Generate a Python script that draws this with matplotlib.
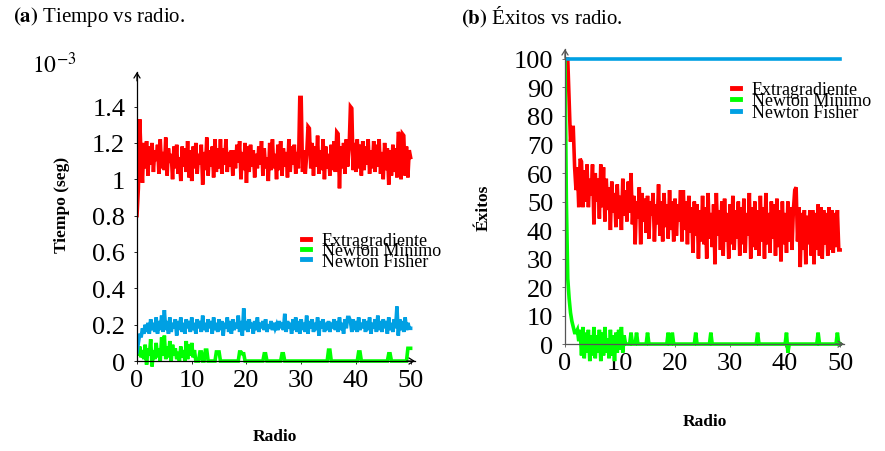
import numpy as np
import matplotlib.pyplot as plt

plt.rcParams['font.family'] = ['Liberation Serif', 'DejaVu Serif']
plt.rcParams['mathtext.fontset'] = 'stix'

# radio: sampled every 0.25 from 0 to 50
radio = np.linspace(0, 50, 201)

# (a) Tiempo vs radio (x 1e-3 seg)
tiempo_extragradiente = [
    0.80, 0.95, 1.33, 1.12, 0.98, 1.20, 1.06, 1.21, 1.02, 1.18, 1.08, 1.20, 1.04, 1.16, 1.10, 1.19, 1.03, 1.22, 1.06, 1.15,
    1.05, 1.23, 1.02, 1.17, 1.09, 1.14, 1.00, 1.18, 1.06, 1.19, 1.03, 1.12, 0.99, 1.18, 1.07, 1.17, 1.04, 1.21, 1.01, 1.16,
    0.99, 1.18, 1.06, 1.20, 1.03, 1.14, 1.08, 1.19, 0.97, 1.15, 1.05, 1.23, 1.02, 1.16, 1.07, 1.18, 1.01, 1.22, 1.04, 1.17,
    1.06, 1.22, 1.03, 1.17, 1.08, 1.22, 1.04, 1.15, 1.07, 1.16, 1.02, 1.16, 1.06, 1.19, 1.09, 1.21, 1.00, 1.15, 1.05, 1.20,
    0.98, 1.18, 1.04, 1.19, 1.07, 1.16, 1.01, 1.14, 1.06, 1.18, 1.08, 1.21, 1.02, 1.17, 1.06, 1.12, 0.99, 1.20, 1.05, 1.22,
    1.06, 1.14, 1.00, 1.19, 1.05, 1.21, 1.02, 1.17, 1.07, 1.15, 1.01, 1.22, 1.04, 1.18, 1.08, 1.19, 1.03, 1.15, 1.06, 1.45,
    1.45, 1.04, 1.16, 1.03, 1.13, 1.29, 1.28, 1.06, 1.20, 1.02, 1.18, 1.07, 1.24, 1.03, 1.16, 1.05, 1.22, 1.00, 1.18, 1.06,
    1.14, 1.02, 1.19, 1.05, 1.21, 1.04, 1.26, 1.25, 0.95, 1.18, 1.06, 1.20, 1.03, 1.22, 1.07, 1.16, 1.40, 1.39, 1.05, 1.20,
    1.04, 1.22, 1.06, 1.19, 1.02, 1.21, 1.05, 1.18, 1.08, 1.22, 1.03, 1.16, 1.06, 1.21, 1.04, 1.19, 1.07, 1.22, 1.03, 1.15,
    1.00, 1.20, 1.05, 1.17, 0.97, 1.16, 1.02, 1.19, 1.04, 1.17, 1.01, 1.26, 1.24, 1.00, 1.25, 1.24, 1.02, 1.18, 1.01, 1.16,
    1.12]
tiempo_newton_minimo = [
    0.05, 0.03, 0.08, 0.02, 0.06, 0.01, 0.09, -0.02, 0.07, 0.03, 0.12, -0.03, 0.06, 0.01, 0.10, 0.02, 0.07, 0.00, 0.13, 0.03,
    0.14, 0.01, 0.08, 0.02, 0.11, 0.00, 0.09, 0.03, 0.07, 0.01, 0.05, 0.00, 0.08, 0.02, 0.06, 0.00, 0.11, 0.01, 0.09, 0.03,
    0.10, 0.02, 0.06, 0.00, 0.00, 0.00, 0.05, 0.05, 0.00, 0.00, 0.06, 0.06, 0.00, 0.00, 0.00, 0.00, 0.00, 0.00, 0.05, 0.05,
    0.05, 0.00, 0.00, 0.00, 0.00, 0.00, 0.00, 0.00, 0.00, 0.00, 0.00, 0.00, 0.00, 0.00, 0.00, 0.05, 0.05, 0.04, 0.04, 0.00,
    0.00, 0.00, 0.00, 0.00, 0.00, 0.00, 0.00, 0.00, 0.00, 0.00, 0.00, 0.00, 0.00, 0.04, 0.04, 0.00, 0.00, 0.00, 0.00, 0.00,
    0.00, 0.00, 0.00, 0.00, 0.00, 0.00, 0.04, 0.04, 0.00, 0.00, 0.00, 0.00, 0.00, 0.00, 0.00, 0.00, 0.00, 0.00, 0.00, 0.00,
    0.00, 0.00, 0.00, 0.00, 0.00, 0.00, 0.00, 0.00, 0.00, 0.00, 0.00, 0.00, 0.00, 0.00, 0.00, 0.00, 0.00, 0.00, 0.00, 0.00,
    0.06, 0.06, 0.00, 0.00, 0.00, 0.00, 0.00, 0.00, 0.00, 0.00, 0.00, 0.00, 0.00, 0.00, 0.00, 0.00, 0.00, 0.00, 0.00, 0.00,
    0.00, 0.00, 0.05, 0.05, 0.00, 0.00, 0.00, 0.00, 0.00, 0.00, 0.00, 0.00, 0.00, 0.00, 0.00, 0.00, 0.00, 0.00, 0.00, 0.00,
    0.00, 0.00, 0.00, 0.00, 0.04, 0.04, 0.00, 0.00, 0.00, 0.00, 0.00, 0.00, 0.00, 0.00, 0.00, 0.00, 0.00, 0.00, 0.07, 0.07,
    0.07]
tiempo_newton_fisher = [
    0.05, 0.10, 0.15, 0.13, 0.18, 0.15, 0.20, 0.16, 0.21, 0.15, 0.23, 0.17, 0.21, 0.16, 0.24, 0.15, 0.22, 0.17, 0.25, 0.16,
    0.28, 0.17, 0.22, 0.15, 0.24, 0.16, 0.21, 0.18, 0.23, 0.14, 0.22, 0.17, 0.24, 0.16, 0.21, 0.15, 0.23, 0.18, 0.22, 0.16,
    0.24, 0.17, 0.21, 0.15, 0.23, 0.18, 0.22, 0.16, 0.25, 0.17, 0.21, 0.16, 0.23, 0.18, 0.22, 0.15, 0.24, 0.17, 0.21, 0.16,
    0.23, 0.17, 0.22, 0.14, 0.21, 0.18, 0.24, 0.16, 0.22, 0.15, 0.23, 0.17, 0.21, 0.18, 0.25, 0.16, 0.22, 0.14, 0.29, 0.17,
    0.22, 0.16, 0.23, 0.18, 0.21, 0.15, 0.22, 0.17, 0.24, 0.16, 0.21, 0.18, 0.22, 0.17, 0.23, 0.16, 0.20, 0.18, 0.22, 0.17,
    0.21, 0.18, 0.20, 0.17, 0.22, 0.18, 0.21, 0.17, 0.26, 0.16, 0.22, 0.18, 0.21, 0.15, 0.23, 0.17, 0.24, 0.16, 0.22, 0.15,
    0.23, 0.17, 0.21, 0.16, 0.25, 0.15, 0.22, 0.18, 0.23, 0.16, 0.21, 0.17, 0.24, 0.14, 0.22, 0.18, 0.23, 0.16, 0.21, 0.17,
    0.22, 0.16, 0.21, 0.18, 0.23, 0.17, 0.22, 0.16, 0.24, 0.17, 0.21, 0.15, 0.23, 0.18, 0.24, 0.24, 0.22, 0.16, 0.23, 0.17,
    0.22, 0.16, 0.24, 0.17, 0.21, 0.18, 0.23, 0.16, 0.22, 0.17, 0.24, 0.15, 0.21, 0.18, 0.23, 0.16, 0.25, 0.17, 0.22, 0.16,
    0.23, 0.18, 0.22, 0.15, 0.24, 0.17, 0.21, 0.16, 0.23, 0.18, 0.30, 0.14, 0.23, 0.17, 0.22, 0.16, 0.24, 0.17, 0.21, 0.18,
    0.18]

# (b) Exitos vs radio
exitos_extragradiente = [
    100, 100, 100, 85, 71, 76, 76, 62, 54, 62, 48, 65, 64, 48, 61, 50, 63, 48, 58, 52,
    63, 42, 60, 50, 58, 44, 63, 48, 62, 43, 58, 47, 55, 40, 57, 46, 53, 41, 56, 44,
    52, 40, 58, 45, 54, 43, 57, 46, 60, 42, 52, 35, 50, 44, 55, 35, 53, 43, 51, 39,
    52, 37, 50, 45, 53, 36, 49, 42, 56, 38, 50, 36, 53, 41, 49, 37, 54, 40, 50, 36,
    51, 38, 49, 43, 54, 36, 54, 40, 50, 35, 52, 39, 48, 32, 50, 38, 49, 30, 47, 36,
    52, 35, 48, 30, 53, 37, 46, 34, 49, 28, 53, 38, 47, 33, 50, 31, 51, 36, 46, 30,
    49, 35, 52, 33, 47, 37, 50, 31, 48, 35, 51, 32, 46, 38, 53, 30, 48, 34, 50, 33,
    47, 31, 52, 36, 48, 30, 53, 35, 46, 32, 50, 37, 49, 31, 51, 34, 47, 29, 50, 35,
    46, 32, 50, 36, 48, 33, 47, 54, 55, 36, 48, 27, 46, 33, 47, 28, 45, 35, 47, 31,
    47, 28, 46, 33, 49, 31, 48, 30, 47, 35, 46, 31, 48, 33, 47, 32, 46, 34, 47, 33,
    33]
exitos_newton_minimo = [
    100, 50, 23, 16, 11, 8, 6, 4, 4, 5, 1, 5, -4, 6, -5, 4, -3, 5, -6, 3,
    -4, 6, -5, 3, -3, 5, -6, 4, -4, 6, -3, 2, -5, 5, -4, 3, -6, 4, -3, 5,
    -2, 6, -3, 3, 0, 0, 0, 0, 4, 0, 0, 0, 4, 0, 0, 0, 0, 0, 0, 0,
    4, 0, 0, 0, 0, 0, 0, 0, 0, 0, 0, 0, 0, 0, 0, 4, 0, 0, 4, 0,
    0, 0, 0, 0, 0, 0, 0, 0, 0, 0, 0, 0, 0, 0, 0, 4, 0, 0, 0, 0,
    0, 0, 0, 0, 0, 0, 4, 0, 0, 0, 0, 0, 0, 0, 0, 0, 0, 0, 0, 0,
    0, 0, 0, 0, 0, 0, 0, 0, 0, 0, 0, 0, 0, 0, 0, 0, 0, 0, 0, 0,
    4, 0, 0, 0, 0, 0, 0, 0, 0, 0, 0, 0, 0, 0, 0, 0, 0, 0, 0, 0,
    0, 4, -3, 0, 0, 0, 0, 0, 0, 0, 0, 0, 0, 0, 0, 0, 0, 0, 0, 0,
    0, 0, 0, 0, 4, 0, 0, 0, 0, 0, 0, 0, 0, 0, 0, 0, 0, 0, 4, 0,
    0]
exitos_newton_fisher = [100] * 201

labels = ['Extragradiente', 'Newton Mínimo', 'Newton Fisher']
colors = ['#ff0000', '#00ff00', '#00a0e3']

xticks = [0, 10, 20, 30, 40, 50]
yticks_a = [0, 0.2, 0.4, 0.6, 0.8, 1.0, 1.2, 1.4]
yticklabels_a = ['0', '0.2', '0.4', '0.6', '0.8', '1', '1.2', '1.4']
yticks_b = [0, 10, 20, 30, 40, 50, 60, 70, 80, 90, 100]

W, H = 885, 452
fig = plt.figure(figsize=(W / 100, H / 100), dpi=100)


def px_axes(x0, x1, ytop, ybot):
    return fig.add_axes([x0 / W, 1 - ybot / H, (x1 - x0) / W, (ybot - ytop) / H])


def style_axes(ax, xmax, ymin, ymax, axcol):
    ax.set_xlim(0, xmax)
    ax.set_ylim(ymin, ymax)
    for s in ['top', 'right']:
        ax.spines[s].set_visible(False)
    ax.spines['bottom'].set_position(('data', 0))
    ax.spines['left'].set_bounds(0, ymax)
    for s in ['left', 'bottom']:
        ax.spines[s].set_color(axcol)
        ax.spines[s].set_linewidth(0.9)
    ax.tick_params(direction='out', length=2.5, width=0.6, color=axcol,
                   labelsize=19)
    ax.tick_params(axis='x', pad=3)
    ax.tick_params(axis='y', pad=6)
    # arrow heads
    ax.annotate('', xy=(1, 0), xytext=(0.97, 0),
                xycoords=('axes fraction', 'data'),
                arrowprops=dict(arrowstyle='->,head_length=0.35,head_width=0.22',
                                color=axcol, lw=0.9, shrinkA=0, shrinkB=0))
    ax.annotate('', xy=(0, 1), xytext=(0, 0.97),
                xycoords=('data', 'axes fraction'),
                arrowprops=dict(arrowstyle='->,head_length=0.35,head_width=0.22',
                                color=axcol, lw=0.9, shrinkA=0, shrinkB=0))


# ---- (a) ----
ax1 = px_axes(137, 415, 73, 369.3)
series_a = [tiempo_extragradiente, tiempo_newton_minimo, tiempo_newton_fisher]
for vals, lab, c in zip(series_a, labels, colors):
    ax1.plot(radio, vals, color=c, lw=2.6, label=lab, solid_joinstyle='miter')
style_axes(ax1, 50.8, -0.04, 1.59, 'black')
ax1.set_xticks(xticks)
ax1.set_yticks(yticks_a)
ax1.set_yticklabels(yticklabels_a)
leg1 = ax1.legend(loc='center left', bbox_to_anchor=(302 / W, 1 - 252 / H),
                  bbox_transform=fig.transFigure, frameon=False, fontsize=13,
                  borderpad=0, borderaxespad=0, handlelength=0.45,
                  handletextpad=0.65, labelspacing=-0.38)
for ln in leg1.get_lines():
    ln.set_linewidth(3.5)

fig.text(32 / W, 1 - 65 / H, r'$10^{-3}$', fontsize=17, ha='left', va='center')
fig.text(62 / W, 1 - 205 / H, 'Tiempo (seg)', rotation=90, fontsize=12.5,
         fontweight='bold', ha='center', va='center')
fig.text(275 / W, 1 - 437 / H, 'Radio', fontsize=12.5, fontweight='bold',
         ha='center', va='center')
fig.text(13 / W, 1 - 17 / H, r'$\mathbf{(a)}$ Tiempo vs radio.', fontsize=15,
         ha='left', va='center')

# ---- (b) ----
ax2 = px_axes(565, 844, 50, 365)
series_b = [exitos_extragradiente, exitos_newton_minimo, exitos_newton_fisher]
for vals, lab, c in zip(series_b, labels, colors):
    ax2.plot(radio, vals, color=c, lw=2.6, label=lab, solid_joinstyle='miter')
style_axes(ax2, 50.7, -7, 103.5, '#555555')
ax2.set_xticks(xticks)
ax2.set_yticks(yticks_b)
leg2 = ax2.legend(loc='center left', bbox_to_anchor=(732 / W, 1 - 102 / H),
                  bbox_transform=fig.transFigure, frameon=False, fontsize=13,
                  borderpad=0, borderaxespad=0, handlelength=0.45,
                  handletextpad=0.65, labelspacing=-0.3)
for ln in leg2.get_lines():
    ln.set_linewidth(3.5)

fig.text(484 / W, 1 - 208 / H, 'Éxitos', rotation=90, fontsize=12.5,
         fontweight='bold', ha='center', va='center')
fig.text(705 / W, 1 - 422 / H, 'Radio', fontsize=12.5, fontweight='bold',
         ha='center', va='center')
fig.text(461 / W, 1 - 17 / H, r'$\mathbf{(b)}$ Éxitos vs radio.', fontsize=15,
         ha='left', va='center')

fig.savefig('out.png', dpi=100)
